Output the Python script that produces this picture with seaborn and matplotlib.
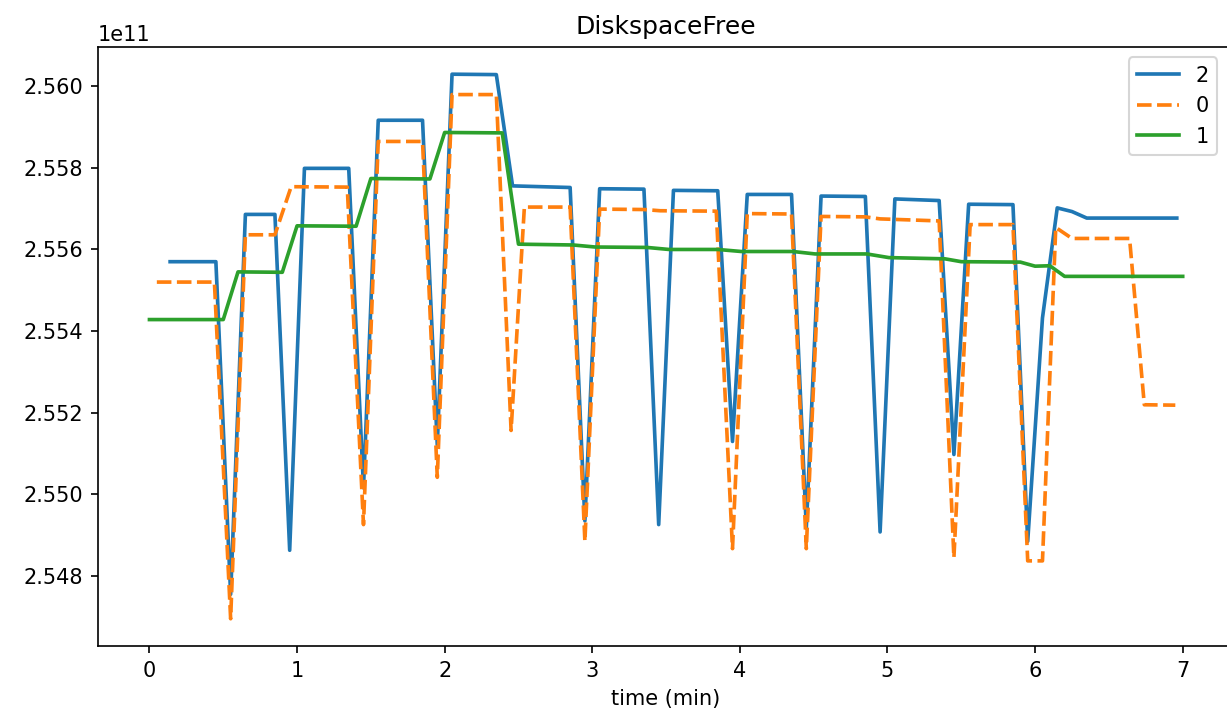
import numpy as np
import pandas as pd
import matplotlib
matplotlib.use("Agg")
import matplotlib.pyplot as plt
import seaborn as sns

# ---- data (values in units of 1e11 bytes) ----
t_2 = [0.14, 0.45, 0.55, 0.65, 0.85, 0.95, 1.05, 1.35, 1.45, 1.55, 1.85, 1.95, 2.05, 2.35,
       2.46, 2.85, 2.95, 3.05, 3.35, 3.45, 3.55, 3.85, 3.95, 4.05, 4.35, 4.45, 4.55, 4.85,
       4.95, 5.05, 5.35, 5.45, 5.55, 5.85, 5.95, 6.05, 6.15, 6.25, 6.35, 6.96]
v_2 = [2.5557, 2.5557, 2.54754, 2.55686, 2.55686, 2.54862, 2.55799, 2.55799, 2.55015, 2.55917,
       2.55917, 2.55120, 2.56030, 2.56029, 2.55756, 2.55752, 2.54934, 2.55749, 2.55748, 2.54925,
       2.55745, 2.55744, 2.55129, 2.55735, 2.55735, 2.54917, 2.55731, 2.55730, 2.54907, 2.55724,
       2.55720, 2.55097, 2.55711, 2.55710, 2.54884, 2.55432, 2.55702, 2.55693, 2.55677, 2.55677]

t_0 = [0.05, 0.44, 0.55, 0.65, 0.85, 0.96, 1.34, 1.45, 1.55, 1.85, 1.95, 2.05, 2.35, 2.45,
       2.54, 2.85, 2.95, 3.05, 3.35, 3.46, 3.84, 3.95, 4.05, 4.35, 4.45, 4.55, 4.85, 4.95,
       5.35, 5.45, 5.56, 5.85, 5.95, 6.05, 6.14, 6.25, 6.64, 6.74, 6.95]
v_0 = [2.5552, 2.5552, 2.54694, 2.55636, 2.55636, 2.55754, 2.55753, 2.54925, 2.55865, 2.55865,
       2.55041, 2.5598, 2.5598, 2.55156, 2.55704, 2.55704, 2.54884, 2.55699, 2.55698, 2.55695,
       2.55694, 2.54866, 2.55688, 2.55687, 2.54866, 2.55681, 2.5568, 2.55675, 2.5567, 2.54844,
       2.55661, 2.55661, 2.54836, 2.54836, 2.55654, 2.55627, 2.55627, 2.55219, 2.55218]

t_1 = [0.0, 0.5, 0.6, 0.9, 1.0, 1.4, 1.5, 1.9, 2.0, 2.39, 2.5, 2.87, 3.02, 3.37, 3.52, 3.85,
       4.01, 4.36, 4.51, 4.86, 5.01, 5.39, 5.5, 5.9, 6.0, 6.1, 6.2, 7.0]
v_1 = [2.55428, 2.55428, 2.55545, 2.55544, 2.55658, 2.55657, 2.55774, 2.55773, 2.55887, 2.55886,
       2.55613, 2.55611, 2.55606, 2.55605, 2.556, 2.556, 2.55595, 2.55595, 2.55589, 2.55589,
       2.5558, 2.55577, 2.5557, 2.55569, 2.55559, 2.5556, 2.55534, 2.55534]

series_order = ["2", "0", "1"]
colors = {"2": "#1f77b4", "0": "#ff7f0e", "1": "#2ca02c"}
dash_styles = {"2": "", "0": (4, 1.5), "1": ""}

frames = []
for name, tt, vv in [("2", t_2, v_2), ("0", t_0, v_0), ("1", t_1, v_1)]:
    frames.append(pd.DataFrame({"time (min)": tt,
                                "value": np.array(vv) * 1e11,
                                "series": name}))
df = pd.concat(frames, ignore_index=True)

fig, ax = plt.subplots(figsize=(1227 / 150, 716 / 150), dpi=150)
fig.subplots_adjust(left=0.0797, right=1.006, top=0.9344, bottom=0.0978)

sns.lineplot(data=df, x="time (min)", y="value", hue="series", style="series",
             hue_order=series_order, style_order=series_order,
             palette=colors, dashes=dash_styles, linewidth=1.75,
             estimator=None, sort=False, ax=ax)

ax.set_title("DiskspaceFree")
ax.set_ylabel("")
ax.set_xlabel("time (min)")
ax.set_yticks(np.array([2.548, 2.550, 2.552, 2.554, 2.556, 2.558, 2.560]) * 1e11)
leg = ax.legend(title=None, loc="upper right", bbox_to_anchor=(1227 / 1234.3, 1.0))

fig.savefig("out.png", dpi=150)
